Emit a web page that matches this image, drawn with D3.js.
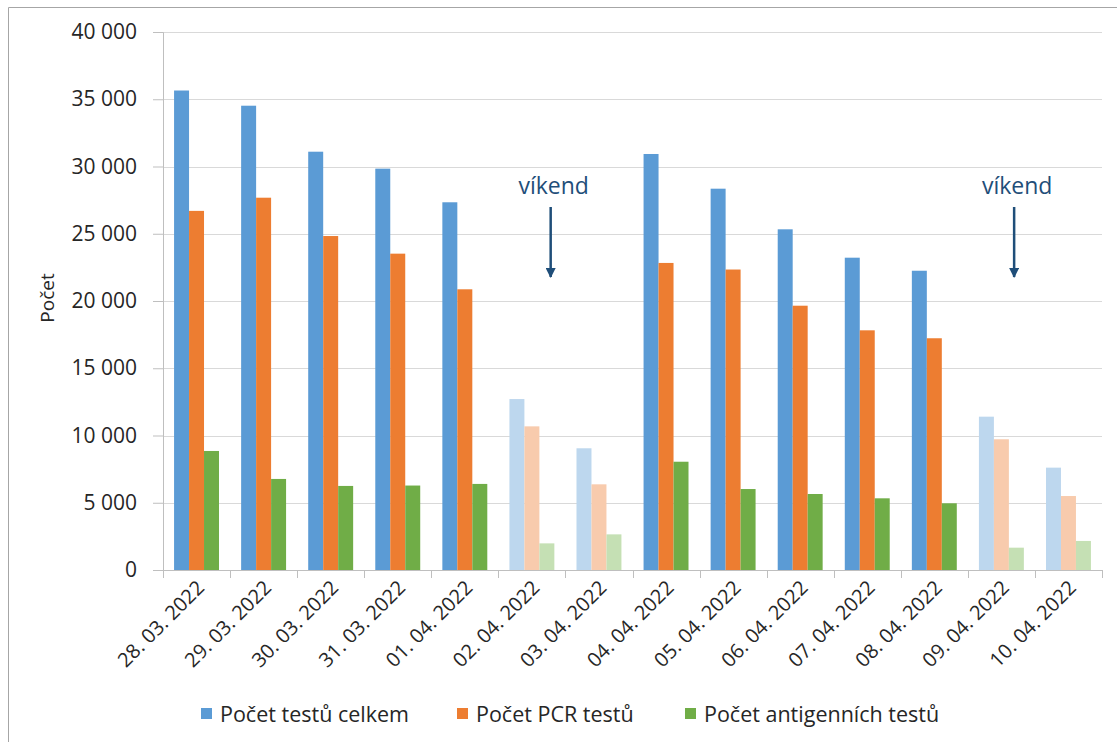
<!DOCTYPE html>
<html>
<head>
<meta charset="utf-8">
<script src="https://cdn.jsdelivr.net/npm/d3@7"></script>
<style>
  body { margin: 0; background: #fff; }
  svg { font-family: "Open Sans", "Noto Sans", sans-serif; }
</style>
</head>
<body>
<svg id="chart"></svg>
<script>
const WIDTH = 1117;
const HEIGHT = 742;

const dates = ["28. 03. 2022", "29. 03. 2022", "30. 03. 2022", "31. 03. 2022", "01. 04. 2022",
  "02. 04. 2022", "03. 04. 2022", "04. 04. 2022", "05. 04. 2022", "06. 04. 2022",
  "07. 04. 2022", "08. 04. 2022", "09. 04. 2022", "10. 04. 2022"];
const weekend = ["02. 04. 2022", "03. 04. 2022", "09. 04. 2022", "10. 04. 2022"];
const total = [35650, 34520, 31100, 29840, 27340, 12710, 9050, 30930, 28350, 25330, 23220, 22250, 11400, 7610];
const pcr = [26700, 27680, 24830, 23520, 20870, 10680, 6370, 22830, 22340, 19650, 17820, 17230, 9720, 5500];
const antigen = [8850, 6770, 6250, 6280, 6400, 1980, 2650, 8050, 6020, 5650, 5330, 4960, 1660, 2160];
const seriesNames = ["Počet testů celkem", "Počet PCR testů", "Počet antigenních testů"];
const colors = ["#5b9bd5", "#ed7d31", "#70ad47"];
const lightColors = ["#bdd7ee", "#f8cbad", "#c5e0b4"];
const yTicks = [0, 5000, 10000, 15000, 20000, 25000, 30000, 35000, 40000];
// note arrows sit inside the band of a date, pos = fraction of the category step
const notes = [{label: "víkend", date: "02. 04. 2022", pos: 0.78}, {label: "víkend", date: "09. 04. 2022", pos: 0.69}];

const margin = {top: 32, right: 15, bottom: 172, left: 163};
const width = WIDTH - margin.left - margin.right;
const height = HEIGHT - margin.top - margin.bottom;

const svg = d3.select("#chart").attr("width", WIDTH).attr("height", HEIGHT);

// outer frame (only top and left edges visible)
svg.append("path")
  .attr("d", `M8.5,${HEIGHT} V7.5 H${WIDTH}`)
  .attr("fill", "none").attr("stroke", "#a6a6a6");

const g = svg.append("g").attr("transform", `translate(${margin.left},${margin.top})`);

const x = d3.scaleBand().domain(dates).range([0, width]).paddingInner(0.33).paddingOuter(0.165);
const inner = d3.scaleBand().domain([0, 1, 2]).range([0, x.bandwidth()]);
const y = d3.scaleLinear().domain([0, 40000]).range([height, 0]);
const step = x.step();

const fmt = v => d3.format(",")(v).replace(/,/g, " ");

// gridlines
g.append("g").selectAll("line").data(yTicks.filter(t => t > 0)).join("line")
  .attr("x1", 0).attr("x2", width)
  .attr("y1", d => Math.round(y(d)) + 0.5).attr("y2", d => Math.round(y(d)) + 0.5)
  .attr("stroke", "#d9d9d9").attr("stroke-width", 1.2);

// y axis
const yAxis = g.append("g").attr("class", "axis axis--y")
  .call(d3.axisLeft(y).tickValues(yTicks).tickFormat(fmt).tickSize(10).tickPadding(16));
yAxis.attr("font-family", null).attr("font-size", null);
yAxis.select(".domain").attr("stroke", "#bfbfbf");
yAxis.selectAll(".tick line").attr("stroke", "#bfbfbf");
yAxis.selectAll("text").style("font-size", "21px").attr("fill", "#262626");

// bars
const series = [total, pcr, antigen];
series.forEach((vals, si) => {
  g.append("g").selectAll("rect").data(vals.map((v, i) => ({date: dates[i], v}))).join("rect")
    .attr("x", d => x(d.date) + inner(si))
    .attr("y", d => y(d.v))
    .attr("width", inner.bandwidth())
    .attr("height", d => y(0) - y(d.v))
    .attr("fill", d => weekend.includes(d.date) ? lightColors[si] : colors[si]);
});

// x axis
const xAxisG = g.append("g").attr("transform", `translate(0,${height})`);
xAxisG.append("line").attr("x1", 0).attr("x2", width).attr("y1", 0.5).attr("y2", 0.5).attr("stroke", "#bfbfbf");
xAxisG.selectAll(".sep").data(d3.range(dates.length + 1)).join("line")
  .attr("x1", i => Math.round(i * step) + 0.5).attr("x2", i => Math.round(i * step) + 0.5)
  .attr("y1", 0).attr("y2", 8).attr("stroke", "#bfbfbf");
xAxisG.selectAll("text").data(dates).join("text")
  .attr("transform", d => `translate(${x(d) + x.bandwidth() / 2 + 4},${14}) rotate(-45)`)
  .attr("text-anchor", "end")
  .attr("dy", "0.35em")
  .style("font-size", "20px")
  .attr("fill", "#262626")
  .text(d => d);

// y axis title
svg.append("text")
  .attr("transform", `translate(54,${298}) rotate(-90)`)
  .attr("text-anchor", "middle")
  .style("font-size", "19px")
  .attr("fill", "#262626")
  .text("Počet");

// annotations
svg.append("defs").append("marker")
  .attr("id", "arrow").attr("viewBox", "0 0 10 10").attr("refX", 9).attr("refY", 5)
  .attr("markerWidth", 4).attr("markerHeight", 4).attr("orient", "auto")
  .append("path").attr("d", "M0,0 L10,5 L0,10 Z").attr("fill", "#1f4e79");

notes.forEach(n => {
  const cx = x(n.date) - x.paddingOuter() * step + n.pos * step;
  g.append("text")
    .attr("x", cx + 3).attr("y", 194 - margin.top)
    .attr("text-anchor", "middle")
    .style("font-size", "23px")
    .attr("fill", "#1f4e79")
    .text(n.label);
  g.append("line")
    .attr("x1", cx).attr("x2", cx)
    .attr("y1", 207 - margin.top).attr("y2", 277 - margin.top)
    .attr("stroke", "#1f4e79").attr("stroke-width", 2.5)
    .attr("marker-end", "url(#arrow)");
});

// legend
const legendX = [201, 457, 685];
const legend = svg.append("g").attr("transform", "translate(0,714)");
seriesNames.forEach((name, i) => {
  legend.append("rect").attr("x", legendX[i]).attr("y", -6).attr("width", 11).attr("height", 11).attr("fill", colors[i]);
  legend.append("text").attr("x", legendX[i] + 19).attr("y", 0).attr("dy", "0.35em")
    .style("font-size", "21.5px").attr("fill", "#262626").text(name);
});
</script>
</body>
</html>
